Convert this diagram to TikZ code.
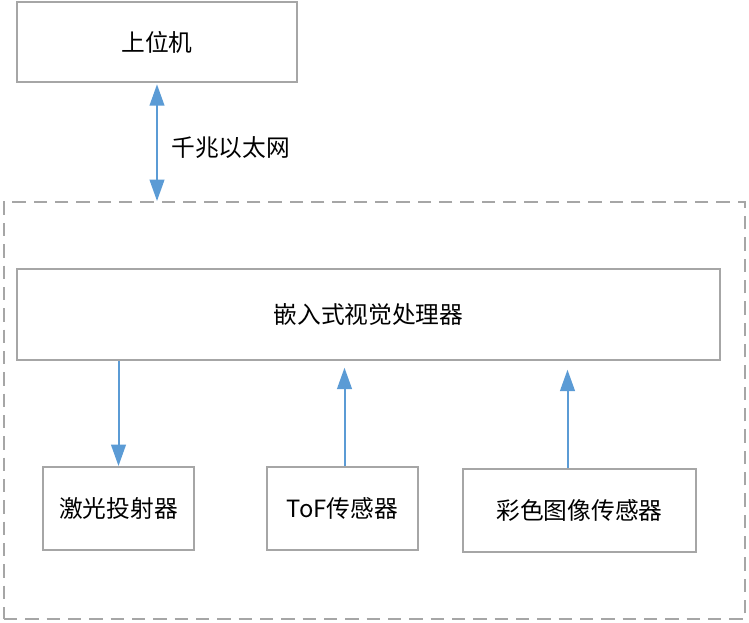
\documentclass[tikz,border=0pt]{standalone}
\usepackage{fontspec}
\setmainfont{Noto Sans CJK SC}
\usetikzlibrary{arrows.meta}
\definecolor{boxgray}{RGB}{166,166,166}
\definecolor{arrblue}{RGB}{91,155,213}
\begin{document}
\begin{tikzpicture}[x=0.75pt,y=-0.75pt,
  box/.style={draw=boxgray,line width=1.5pt,fill=white,inner sep=0pt,font=\fontsize{17.8}{20}\selectfont},
  sysbox/.style={draw=boxgray,line width=1.5pt,dash pattern=on 10pt off 6pt,inner sep=0pt},
  arr/.style={draw=arrblue,line width=1.5pt,-{Triangle[length=16pt,width=11pt]}},
  darr/.style={draw=arrblue,line width=1.5pt,{Triangle[length=16pt,width=11pt]}-{Triangle[length=16pt,width=11pt]}},
  lbl/.style={font=\fontsize{17.8}{20}\selectfont,inner sep=0pt}]
\useasboundingbox (0,0) rectangle (749,622);
\node[sysbox,minimum width=555.75pt,minimum height=312.75pt] (sys) at (374.5,410.5) {};
\node[box,minimum width=210pt,minimum height=60pt] (host) at (157,42) {上位机};
\node[box,minimum width=527.25pt,minimum height=68.25pt] (proc) at (368.5,314.5) {嵌入式视觉处理器};
\node[box,minimum width=113.25pt,minimum height=62.25pt] (laser) at (118.5,508.5) {激光投射器};
\node[box,minimum width=113.25pt,minimum height=62.25pt] (tof) at (342.5,508.5) {ToF传感器};
\node[box,minimum width=174.75pt,minimum height=62.25pt] (color) at (579.5,510.5) {彩色图像传感器};
\draw[darr] ([yshift=-1pt]host.south) -- (host.south |- sys.north);
\node[lbl,anchor=west] (eth) at (171,148) {千兆以太网};
\draw[arr] (laser.north |- proc.south) -- (laser.north);
\draw[arr] ([xshift=1.5pt]tof.north) -- ([xshift=1.5pt,yshift=-5pt]tof.north |- proc.south);
\draw[arr] ([xshift=-9pt]color.north) -- ([xshift=-9pt,yshift=-6.5pt]color.north |- proc.south);
\end{tikzpicture}
\end{document}
